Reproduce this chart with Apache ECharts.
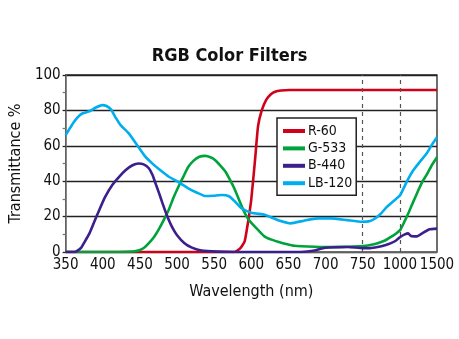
<!DOCTYPE html>
<html>
<head>
<meta charset="utf-8">
<script src="https://cdn.jsdelivr.net/npm/echarts@6/dist/echarts.min.js"></script>
<style>
  html, body { margin: 0; padding: 0; background: #fff; }
  #chart { width: 459px; height: 339px; }
</style>
</head>
<body>
<div id="chart"></div>
<script>
// Wavelength tick positions (nm); the axis is evenly spaced between these ticks
const wavelengthTicks = [350, 400, 450, 500, 550, 600, 650, 700, 750, 1000, 1500];

// Transmittance curves: [wavelength nm, transmittance %]
const r60 = [[350,0],[450,0],[560,0],[577,0],[585,2],[591,6],[596,18],[600,30],[605,52],[609,71],[614,80],[620,86],[626,89],[632,90.5],[640,91.2],[651,91.5],[700,91.5],[750,91.5],[1000,91.5],[1500,91.5]];
const g533 = [[350,0],[400,0],[440,0.3],[449,1],[456,2.5],[462,5],[469,8.5],[475,12.5],[482,18],[489,24],[495,30.5],[502,37],[509,43],[515,48],[522,51.5],[530,53.8],[538,54.3],[545,53.5],[551,52],[558,49],[565,45.5],[571,41],[577,36],[583,30],[590,23],[596,18.5],[600,16.5],[609,12.5],[618,8.7],[627,7],[636,5.8],[647,4.5],[658,3.5],[685,3],[707,2.8],[730,3],[750,3.4],[800,4],[850,5],[900,6.5],[940,8.5],[975,10.5],[1005,12.5],[1060,17],[1120,22.5],[1183,28.6],[1250,35],[1300,39.5],[1362,43.7],[1430,49],[1500,53.5]];
const b440 = [[350,0],[362,0],[366,0.8],[371,2.5],[376,6],[382,10.5],[388,16.5],[395,23.5],[403,31],[413,38],[422,42.5],[431,46.3],[440,49],[448,50],[455,49.5],[462,47.3],[467,43.5],[471,38.8],[476,33],[480,28],[486,21],[493,14.3],[500,9.5],[510,5],[520,2.5],[533,0.8],[555,0.2],[580,0],[600,0],[660,0],[675,0.3],[685,0.8],[695,2],[705,2.5],[730,2.8],[750,2.2],[800,2.2],[850,2.8],[900,3.8],[940,5],[975,6.5],[1005,8.5],[1060,9.8],[1112,10.5],[1150,9],[1230,8.8],[1300,10.5],[1400,12.8],[1500,13.2]];
const lb120 = [[350,66],[358,71.5],[366,76],[373,78.4],[382,79.5],[390,81.5],[399,83],[405,82.5],[411,80.6],[418,75.5],[424,71.7],[435,67],[446,60.5],[457,54],[468,49.5],[478,46],[489,42.5],[502,39.5],[515,36],[527,33.5],[538,31.6],[549,31.8],[560,32.2],[570,31.5],[578,28.5],[587,24.7],[600,22.2],[618,21],[627,19.5],[636,18],[653,16.2],[671,17.7],[689,19],[707,19],[729,18],[749,17.1],[790,17.3],[825,18.5],[870,21.5],[914,25.6],[960,29],[1005,32.2],[1090,39.5],[1183,46.3],[1270,51],[1362,55.8],[1430,60.5],[1500,64.8]];

const seriesNames = ['R-60', 'G-533', 'B-440', 'LB-120'];
const seriesColors = ['#d0021b', '#00a33a', '#3b1f8c', '#00aeef'];
const dashedAt = [750, 1000];

// Map a wavelength to its position on the piecewise-even axis
function axisPos(w) {
  for (let i = 0; i < wavelengthTicks.length - 1; i++) {
    const a = wavelengthTicks[i], b = wavelengthTicks[i + 1];
    if (w <= b) return i + (w - a) / (b - a);
  }
  return wavelengthTicks.length - 1;
}
const toAxis = data => data.map(([w, v]) => [axisPos(w), v]);

const FONT = "'DejaVu Sans Condensed', 'Liberation Sans Narrow', sans-serif";

const chart = echarts.init(document.getElementById('chart'), null, { renderer: 'canvas' });
const curves = [r60, g533, b440, lb120];

chart.setOption({
  backgroundColor: '#fff',
  animation: false,
  title: {
    text: 'RGB Color Filters',
    left: 'center',
    top: 42,
    textStyle: { fontFamily: FONT, fontWeight: 'bold', fontSize: 18, color: '#111' }
  },
  grid: {
    left: 63, right: 22, top: 75, bottom: 87,
    show: true, borderColor: '#222', borderWidth: 1.3, backgroundColor: 'transparent'
  },
  legend: {
    orient: 'vertical',
    left: 277, top: 118,
    data: seriesNames,
    icon: 'rect',
    itemWidth: 22, itemHeight: 4,
    itemGap: 3.4,
    padding: [6, 4, 5, 6],
    borderColor: '#222', borderWidth: 1.5,
    backgroundColor: '#fff',
    textStyle: { fontFamily: FONT, fontSize: 14, color: '#111', lineHeight: 14, padding: [0, 0, 0, -2] }
  },
  xAxis: {
    type: 'value',
    min: 0, max: wavelengthTicks.length - 1, interval: 1,
    name: 'Wavelength (nm)',
    nameLocation: 'middle',
    nameGap: 32,
    nameTextStyle: { fontFamily: FONT, fontSize: 16, color: '#111' },
    axisLine: { show: true, lineStyle: { color: '#777', width: 1.5 } },
    axisTick: { show: false },
    splitLine: { show: false },
    axisLabel: {
      fontFamily: FONT, fontSize: 15, color: '#111', margin: 6,
      showMinLabel: true, showMaxLabel: true, hideOverlap: false,
      formatter: v => String(wavelengthTicks[Math.round(v)])
    }
  },
  yAxis: {
    type: 'value',
    min: 0, max: 100, interval: 20,
    name: 'Transmittance %',
    nameLocation: 'middle',
    nameGap: 40,
    nameTextStyle: { fontFamily: FONT, fontSize: 16, color: '#111' },
    axisLine: { show: true, lineStyle: { color: '#777', width: 1.5 } },
    axisTick: { show: true, length: 3, lineStyle: { color: '#222', width: 1.3 } },
    minorTick: { show: true, splitNumber: 2, length: 3, lineStyle: { color: '#777', width: 1.3 } },
    splitLine: { show: true, lineStyle: { color: '#222', width: 1.3 } },
    axisLabel: { fontFamily: FONT, fontSize: 15, color: '#111', margin: 5 }
  },
  series: seriesNames.map((name, i) => ({
    name,
    type: 'line',
    data: toAxis(curves[i]),
    showSymbol: false,
    smooth: 0.15,
    z: 3 + i,
    lineStyle: { color: seriesColors[i], width: 2.6 },
    itemStyle: { color: seriesColors[i] },
    markLine: i === 0 ? {
      silent: true,
      symbol: 'none',
      label: { show: false },
      lineStyle: { color: '#555', type: [4, 4], width: 1.2 },
      data: dashedAt.map(w => ({ xAxis: axisPos(w) }))
    } : undefined
  }))
});
</script>
</body>
</html>
